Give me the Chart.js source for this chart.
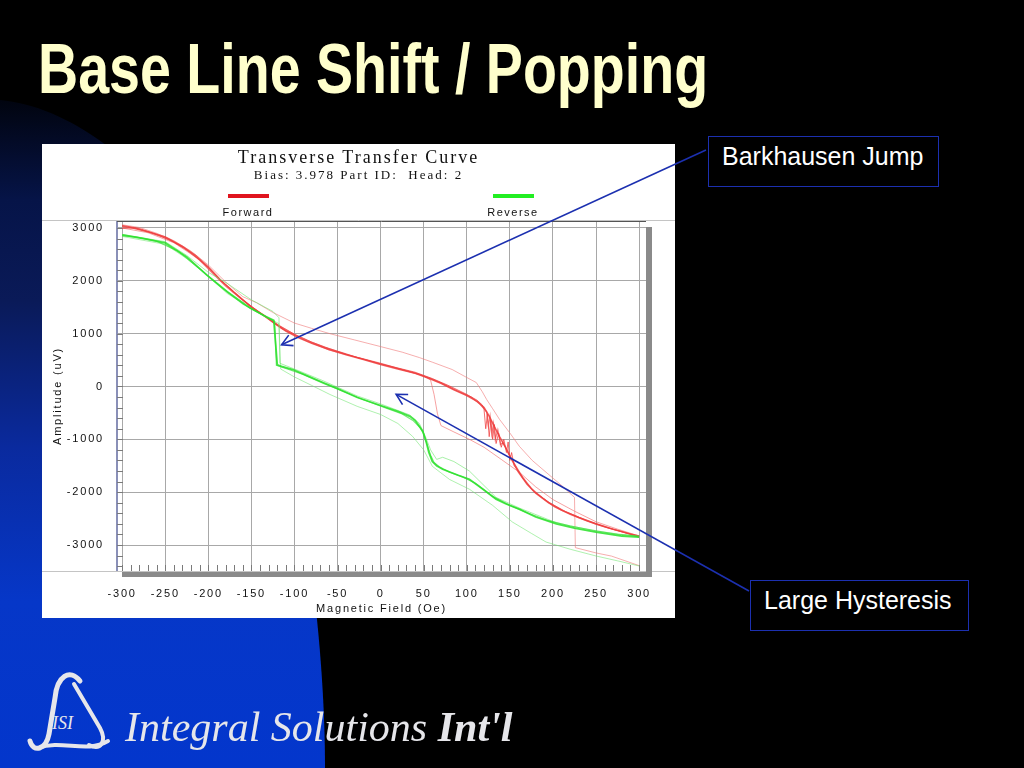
<!DOCTYPE html>
<html lang="en">
<head>
<meta charset="UTF-8">
<title>Base Line Shift / Popping</title>
<script src="https://cdn.jsdelivr.net/npm/chart.js"></script>
<style>
  html, body { margin: 0; padding: 0; }
  body {
    width: 1024px; height: 768px; background: #000;
    position: relative; overflow: hidden;
    font-family: 'Liberation Sans', Arial, sans-serif;
  }
  svg { position: absolute; left: 0; top: 0; }
  h1 {
    position: absolute; left: 38px; top: 34px; margin: 0;
    font-size: 70px; line-height: 70px; font-weight: bold;
    color: #ffffcc; white-space: nowrap;
    transform: scaleX(0.794); transform-origin: left top;
  }
  .card {
    position: absolute; left: 42px; top: 144px;
    width: 633px; height: 474px; background: #fff;
  }
  .card canvas { position: absolute; left: 0; top: 0; }
  .ctitle, .csub {
    position: absolute; left: 0; width: 100%; text-align: center;
    font-family: 'Liberation Serif', 'Times New Roman', serif; color: #111;
  }
  .ctitle { top: 4px; font-size: 18px; line-height: 18px; letter-spacing: 2px; }
  .csub { top: 24px; font-size: 13px; line-height: 13px; letter-spacing: 2px; }
  .key { position: absolute; width: 41px; height: 4px; top: 50px; }
  .keytext {
    position: absolute; top: 63px; width: 80px; text-align: center;
    font-size: 11px; line-height: 11px; letter-spacing: 1.5px; color: #111;
  }
  .note {
    position: absolute; box-sizing: border-box; height: 51px;
    border: 1.5px solid #1c30b0; color: #fff;
    font-size: 25px; line-height: 25px; padding: 7px 0 0 13px;
  }
  .logo {
    position: absolute; left: 125px; top: 706px; white-space: nowrap;
    font-family: 'Liberation Serif', 'Times New Roman', serif;
    font-style: italic; font-size: 42px; line-height: 42px; color: #e6e6ea;
  }
  .logo b { font-weight: bold; }
</style>
</head>
<body>
<svg width="1024" height="768">
  <defs>
    <linearGradient id="blu" x1="0" y1="100" x2="0" y2="768" gradientUnits="userSpaceOnUse">
      <stop offset="0" stop-color="#01040f"/>
      <stop offset="0.15" stop-color="#061448"/>
      <stop offset="0.3" stop-color="#0a1a58"/>
      <stop offset="0.52" stop-color="#0a2a9e"/>
      <stop offset="0.75" stop-color="#0637c8"/>
      <stop offset="1" stop-color="#0336cc"/>
    </linearGradient>
  </defs>
  <path d="M0 100 C110 110 250 250 300 500 C315 580 325 680 325 768 L0 768 Z" fill="url(#blu)"/>
  <g fill="none" stroke="#e6e6ea" stroke-linecap="round">
    <path d="M80 681 C70 668 57 676 55 698 L49 734 C46 750 33 753 30 741" stroke-width="5"/>
    <path d="M74 684 L100 728 C107 741 101 751 89 745" stroke-width="4"/>
    <path d="M38 748 C62 739 86 754 108 741" stroke-width="4"/>
  </g>
  <text x="52" y="729" fill="#e6e6ea" font-family="Liberation Serif" font-style="italic" font-size="18">ISI</text>
</svg>

<h1>Base Line Shift / Popping</h1>

<div class="card">
  <canvas id="ttc" width="633" height="474"></canvas>
  <div class="ctitle">Transverse Transfer Curve</div>
  <div class="csub">Bias: 3.978 Part ID:&nbsp; Head: 2</div>
  <div class="key" style="left:186px; background:#e0141e;"></div>
  <div class="keytext" style="left:166px;">Forward</div>
  <div class="key" style="left:451px; background:#22ee22;"></div>
  <div class="keytext" style="left:431px;">Reverse</div>
</div>

<div class="note" style="left:708px; top:136px; width:231px;">Barkhausen Jump</div>
<div class="note" style="left:750px; top:580px; width:219px;">Large Hysteresis</div>

<svg id="notes" width="1024" height="768"></svg>

<div class="logo">Integral Solutions <b>Int'l</b></div>

<script>
  // tick labels
  const fieldTicks = [-300, -250, -200, -150, -100, -50, 0, 50, 100, 150, 200, 250, 300];
  const ampTicks = [-3000, -2000, -1000, 0, 1000, 2000, 3000];

  // forward sweeps [field Oe, amplitude uV]
  const fwdMain = [[-300,3030],[-290,3010],[-270,2930],[-250,2830],[-230,2650],[-215,2480],[-200,2260],[-185,2000],[-170,1780],[-150,1500],[-135,1340],[-125,1220],[-110,1050],[-95,920],[-80,820],[-60,700],[-40,600],[-20,510],[0,415],[20,330],[40,250],[55,160],[70,60],[85,-60],[100,-170],[112,-280],[120,-400],[126,-560],[132,-760],[138,-950],[145,-1150],[152,-1380],[160,-1620],[170,-1850],[180,-2020],[195,-2200],[210,-2340],[230,-2480],[250,-2600],[270,-2700],[290,-2790],[300,-2830]];
  const fwdNear = [[-300,2990],[-285,3000],[-265,2900],[-245,2780],[-228,2620],[-210,2390],[-195,2140],[-180,1900],[-165,1700],[-148,1480],[-130,1270],[-115,1100],[-100,980],[-85,870],[-65,740],[-45,640],[-25,540],[0,440],[25,320],[45,230],[60,140],[75,30],[90,-90],[105,-200],[115,-330],[123,-480],[125,-750],[127,-560],[129,-900],[131,-700],[133,-1000],[136,-820],[139,-1100],[142,-1060],[148,-1260],[156,-1480],[165,-1720],[175,-1930],[188,-2110],[202,-2280],[220,-2420],[240,-2550],[260,-2660],[280,-2750],[300,-2850]];
  const fwdPop = [[-300,3050],[-280,2990],[-260,2880],[-240,2730],[-220,2530],[-200,2250],[-180,1930],[-160,1640],[-140,1400],[-120,1170],[-100,990],[-80,840],[-60,720],[-40,610],[-20,520],[0,430],[20,350],[40,270],[60,150],[80,10],[100,-150],[112,-260],[118,-350],[120,-430],[122,-800],[124,-520],[126,-950],[128,-640],[130,-1000],[132,-720],[134,-1080],[137,-880],[140,-1150],[143,-1000],[146,-1250],[148,-1050],[150,-1400],[152,-1250],[155,-1500],[160,-1600],[165,-1740],[178,-1990],[195,-2190],[215,-2370],[240,-2540],[265,-2680],[300,-2840]];
  const fwdHigh = [[-300,3060],[-280,3010],[-260,2900],[-240,2760],[-220,2560],[-200,2300],[-180,1980],[-160,1700],[-144,1585],[-125,1400],[-100,1200],[-80,1100],[-59,1000],[-30,880],[0,755],[25,650],[45,547],[60,460],[83,321],[100,170],[111,75],[118,-100],[123,-245],[130,-420],[138,-623],[150,-880],[161,-1132],[176,-1400],[192,-1623],[211,-1887],[225,-2100],[226,-3050],[250,-3150],[268,-3210],[300,-3390]];
  const fwdLow = [[-300,3000],[-270,2910],[-240,2720],[-210,2400],[-180,1930],[-150,1490],[-120,1180],[-90,890],[-60,690],[-30,560],[0,425],[30,300],[50,200],[58,120],[62,-150],[66,-520],[70,-740],[85,-860],[103,-1000],[120,-1150],[140,-1380],[161,-1623],[180,-1900],[200,-2140],[225,-2360],[250,-2560],[275,-2700],[300,-2830]];

  // reverse sweeps [field Oe, amplitude uV]
  const revMain = [[300,-2850],[280,-2830],[250,-2755],[225,-2680],[204,-2600],[180,-2470],[161,-2321],[145,-2220],[134,-2132],[120,-1960],[103,-1755],[90,-1680],[72,-1566],[65,-1500],[60,-1420],[56,-1250],[53,-1057],[49,-850],[45,-755],[40,-640],[34,-566],[20,-470],[0,-360],[-27,-208],[-50,-40],[-67,75],[-85,200],[-102,321],[-115,380],[-120,410],[-124,1250],[-135,1340],[-152,1491],[-178,1793],[-202,2113],[-225,2453],[-250,2717],[-275,2800],[-300,2870]];
  const revNear = [[300,-2830],[275,-2800],[250,-2730],[220,-2640],[195,-2540],[170,-2390],[150,-2250],[130,-2080],[110,-1830],[95,-1710],[80,-1620],[68,-1520],[62,-1440],[58,-1300],[54,-1100],[50,-900],[46,-780],[38,-650],[25,-520],[5,-400],[-20,-250],[-45,-80],[-65,50],[-90,230],[-110,340],[-121,400],[-123,1230],[-140,1380],[-160,1560],[-185,1880],[-210,2230],[-235,2560],[-260,2750],[-285,2830],[-300,2850]];
  const revLow = [[300,-3397],[275,-3300],[250,-3208],[220,-3080],[192,-2944],[175,-2780],[153,-2566],[130,-2250],[103,-1944],[80,-1760],[60,-1510],[50,-1200],[37,-943],[20,-700],[0,-530],[-27,-377],[-59,-150],[-80,20],[-100,180],[-116,330],[-118,1190],[-135,1330],[-150,1470],[-178,1760],[-200,2080],[-225,2420],[-250,2690],[-300,2840]];
  const revBump = [[300,-2840],[250,-2740],[204,-2580],[161,-2300],[134,-2100],[103,-1600],[85,-1420],[72,-1340],[65,-1380],[58,-1200],[52,-950],[45,-700],[34,-540],[0,-330],[-27,-180],[-67,110],[-100,330],[-117,440],[-118,1300],[-125,1420],[-150,1640],[-178,1950],[-200,2160],[-225,2480],[-250,2740],[-300,2880]];

  const toXY = arr => arr.map(p => ({ x: p[0], y: p[1] }));

  function trace(data, color, width) {
    return { data: toXY(data), borderColor: color, borderWidth: width,
             showLine: true, pointRadius: 0, fill: false, tension: 0 };
  }

  const datasets = [
    trace(revMain, 'rgba(40,225,40,0.85)', 1.8),
    trace(revNear, 'rgba(60,225,60,0.7)', 1.2),
    trace(revBump, 'rgba(110,230,110,0.6)', 1),
    trace(revLow, 'rgba(110,230,110,0.55)', 1),
    trace(fwdMain, 'rgba(238,60,60,0.85)', 1.6),
    trace(fwdNear, 'rgba(238,70,70,0.7)', 1.2),
    trace(fwdPop, 'rgba(240,60,60,0.75)', 1),
    trace(fwdHigh, 'rgba(240,120,120,0.6)', 1),
    trace(fwdLow, 'rgba(240,100,100,0.6)', 1)
  ];

  // plot frame: separators, minor ticks, grey 3D shadow bars
  const frame = {
    id: 'frame',
    beforeLayout(chart) { chart.ctx.letterSpacing = '1.8px'; },
    beforeDraw(chart) { chart.ctx.letterSpacing = '1.8px'; },
    beforeDatasetsDraw(chart) {
      const { ctx, chartArea: a, scales: { x, y }, width } = chart;
      ctx.save();
      ctx.lineWidth = 1;
      ctx.strokeStyle = '#c4c4c4';
      ctx.beginPath();
      ctx.moveTo(0, a.top - 0.5); ctx.lineTo(width, a.top - 0.5);
      ctx.moveTo(0, a.bottom + 0.5); ctx.lineTo(width, a.bottom + 0.5);
      ctx.stroke();
      ctx.strokeStyle = '#7a7a7a';
      ctx.beginPath();
      for (let v = -300; v <= 300; v += 10) {
        const px = Math.round(x.getPixelForValue(v)) + 0.5;
        ctx.moveTo(px, a.bottom); ctx.lineTo(px, a.bottom - 6);
      }
      for (let v = -3400; v <= 3000; v += 200) {
        const py = Math.round(y.getPixelForValue(v)) + 0.5;
        ctx.moveTo(a.left, py); ctx.lineTo(a.left + 6, py);
      }
      ctx.stroke();
      ctx.restore();
    },
    afterDatasetsDraw(chart) {
      const { ctx, chartArea: a } = chart;
      ctx.save();
      ctx.strokeStyle = '#555';
      ctx.lineWidth = 1;
      ctx.beginPath();
      ctx.moveTo(a.left, a.top + 0.5); ctx.lineTo(a.right, a.top + 0.5);
      ctx.stroke();
      ctx.fillStyle = '#8a8a8a';
      ctx.fillRect(a.right, a.top + 6, 6, a.bottom - a.top);
      ctx.fillRect(a.left + 5, a.bottom + 1, a.right - a.left + 1, 5);
      ctx.restore();
    }
  };

  const chart = new Chart(document.getElementById('ttc'), {
    type: 'scatter',
    data: { datasets },
    options: {
      responsive: false,
      animation: false,
      layout: { padding: { top: 77, right: 29, left: 0, bottom: 0 } },
      plugins: { legend: { display: false }, tooltip: { enabled: false } },
      scales: {
        x: {
          type: 'linear', min: -306, max: 308,
          afterBuildTicks: s => { s.ticks = fieldTicks.map(v => ({ value: v })); },
          afterFit: s => { s.height = 47; },
          grid: { color: '#a8a8a8', drawTicks: false },
          border: { display: false },
          ticks: { padding: 16, maxRotation: 0, color: '#111',
                   font: { family: 'Liberation Sans', size: 11 }, callback: v => String(v) },
          title: { display: true, text: 'Magnetic Field (Oe)', color: '#111',
                   font: { family: 'Liberation Sans', size: 11 }, padding: { top: 0, bottom: 2 } }
        },
        y: {
          type: 'linear', min: -3492, max: 3132,
          afterBuildTicks: s => { s.ticks = ampTicks.map(v => ({ value: v })); },
          afterFit: s => { s.width = 75; },
          grid: { color: '#a8a8a8', drawTicks: false },
          border: { color: '#8a90b8', width: 2 },
          ticks: { padding: 13, color: '#111',
                   font: { family: 'Liberation Sans', size: 11 }, callback: v => String(v) },
          title: { display: true, text: 'Amplitude (uV)', color: '#111',
                   font: { family: 'Liberation Sans', size: 11 }, padding: { top: 9, bottom: 0 } }
        }
      }
    },
    plugins: [frame]
  });

  // callout arrows: from the note boxes to points on the curves
  const notes = [
    { from: [706, 150], tip: [-115, 790] },
    { from: [749, 591], tip: [18, -150] }
  ];

  function drawNotes() {
    const ox = 42, oy = 144;
    let out = '';
    notes.forEach(n => {
      const tx = ox + chart.scales.x.getPixelForValue(n.tip[0]);
      const ty = oy + chart.scales.y.getPixelForValue(n.tip[1]);
      const [fx, fy] = n.from;
      const ang = Math.atan2(fy - ty, fx - tx);
      const len = 12, spread = 0.5;
      const a1x = tx + len * Math.cos(ang - spread), a1y = ty + len * Math.sin(ang - spread);
      const a2x = tx + len * Math.cos(ang + spread), a2y = ty + len * Math.sin(ang + spread);
      out += `<line x1="${fx}" y1="${fy}" x2="${tx}" y2="${ty}" stroke="#1c30b0" stroke-width="1.6"/>`;
      out += `<polyline points="${a1x},${a1y} ${tx},${ty} ${a2x},${a2y}" fill="none" stroke="#1c30b0" stroke-width="1.6"/>`;
    });
    document.getElementById('notes').innerHTML = out;
  }
  drawNotes();
</script>
</body>
</html>
